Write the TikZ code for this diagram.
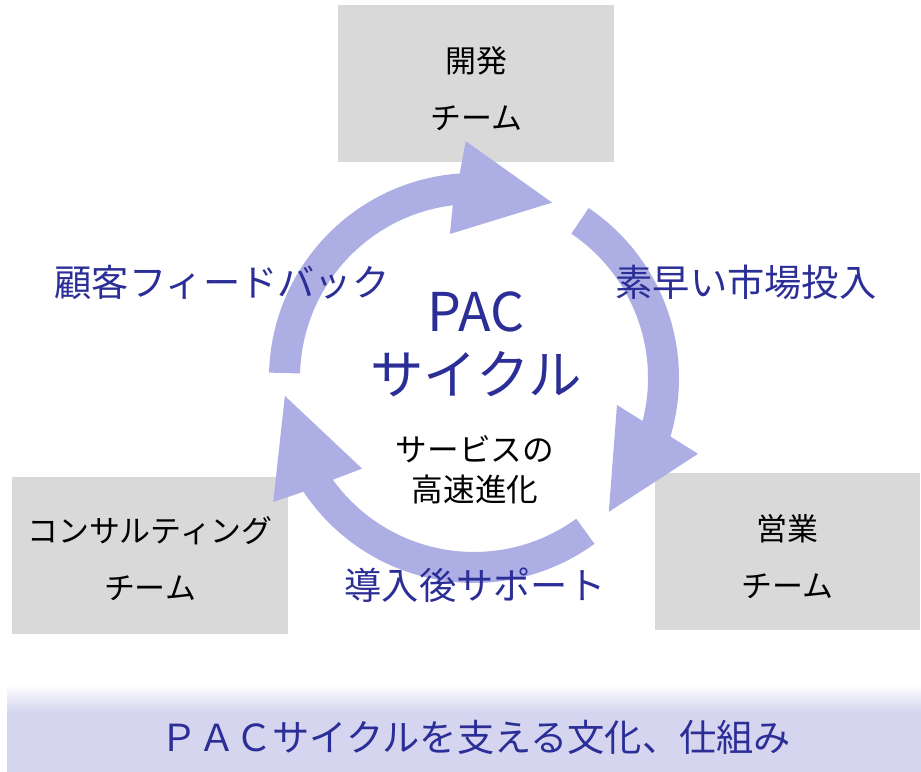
\documentclass[tikz,border=0pt]{standalone}
\usepackage{fontspec}
\setmainfont{Noto Sans CJK JP}
\usetikzlibrary{calc}

\definecolor{teamgray}{RGB}{217,217,217}
\definecolor{cyclefill}{RGB}{173,175,228}
\definecolor{cycleblue}{RGB}{43,46,150}
\definecolor{barfill}{RGB}{213,213,240}

\begin{document}
\begin{tikzpicture}[
  every node/.style={font=\fontsize{8.8}{16.2}\selectfont},
  team/.style={fill=teamgray, inner sep=0pt, minimum height=1.57cm},
  teamtext/.style={align=center},
  steplabel/.style={text=cycleblue, font=\fontsize{10.6}{13}\selectfont}
]
  \useasboundingbox (0,0) rectangle (9.21,-7.72);
  \coordinate (c) at (4.74,-3.78);

  % Teams
  \node (dev) [team, minimum width=2.76cm] at (4.76,-0.835) {};
  \node (consult) [team, minimum width=2.76cm] at (1.50,-5.56) {};
  \node (sales) [team, minimum width=2.65cm] at (7.875,-5.515) {};
  \node (devtext) [teamtext] at ($(dev.center)+(0,-0.05)$) {開発\\チーム};
  \node (consulttext) [teamtext] at ($(consult.center)+(0,-0.03)$) {コンサルティング\\チーム};
  \node (salestext) [teamtext] at ($(sales.center)+(0,-0.05)$) {営業\\チーム};

  % Cycle arrows
  \fill[cyclefill] ($(c)+(178.5:2.05)$) arc[start angle=178.5, end angle=94, radius=2.05]
    -- ($(c)+(92:2.37)$) -- ($(c)+(66:1.92)$) -- ($(c)+(99.5:1.46)$)
    -- ($(c)+(97:1.74)$) arc[start angle=97, end angle=178.5, radius=1.74] -- cycle;
  \fill[cyclefill] ($(c)+(56:2.05)$) arc[start angle=56, end angle=-16.6, radius=2.05]
    -- ($(c)+(-18.7:2.365)$) -- ($(c)+(-44.8:1.90)$) -- ($(c)+(-10.7:1.455)$)
    -- ($(c)+(-14.3:1.74)$) arc[start angle=-14.3, end angle=56, radius=1.74] -- cycle;
  \fill[cyclefill] ($(c)+(306:2.05)$) arc[start angle=306, end angle=213.7, radius=2.05]
    -- ($(c)+(211.7:2.36)$) -- ($(c)+(185.4:1.90)$) -- ($(c)+(219:1.44)$)
    -- ($(c)+(215.8:1.74)$) arc[start angle=215.8, end angle=306, radius=1.74] -- cycle;

  % Labels
  \node (feedback) [steplabel] at (2.22,-2.82) {顧客フィードバック};
  \node (launch) [steplabel] at (7.46,-2.82) {素早い市場投入};
  \node (support) [steplabel] at (4.75,-5.85) {導入後サポート};
  \node (pac) [text=cycleblue, align=center, font=\fontsize{15.2}{18}\selectfont] at (4.76,-3.44) {PAC\\サイクル};
  \node (speed) [align=center, font=\fontsize{9}{11.4}\selectfont] at (4.75,-4.70) {サービスの\\高速進化};

  % Culture bar
  \shade[top color=white, bottom color=barfill] (0.07,-6.85) rectangle (9.21,-7.12);
  \fill[barfill] (0.07,-7.12) rectangle (9.21,-7.72);
  \node (culture) [text=cycleblue, font=\fontsize{10.6}{13}\selectfont] at (4.76,-7.37) {ＰＡＣサイクルを支える文化、仕組み};
\end{tikzpicture}
\end{document}
